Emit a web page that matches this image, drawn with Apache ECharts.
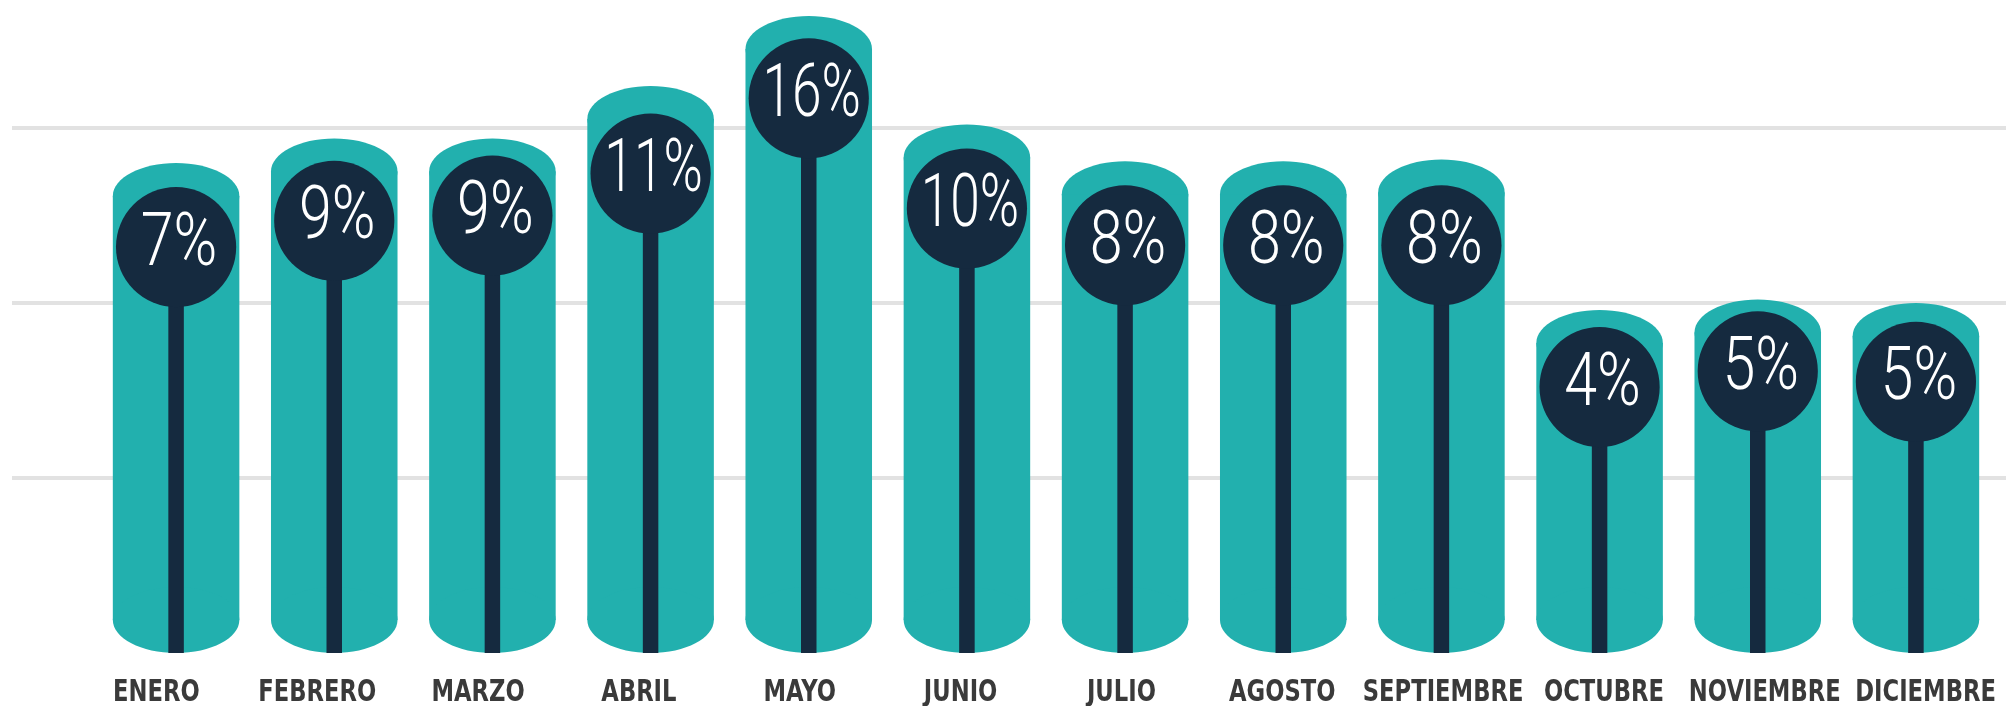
<!DOCTYPE html>
<html>
<head>
<meta charset="utf-8">
<script src="https://cdn.jsdelivr.net/npm/echarts@6/dist/echarts.min.js"></script>
<style>
  html, body { margin: 0; padding: 0; background: #fff; }
  #chart { width: 2006px; height: 706px; }
</style>
</head>
<body>
<div id="chart"></div>
<script>
const months = ['ENERO', 'FEBRERO', 'MARZO', 'ABRIL', 'MAYO', 'JUNIO', 'JULIO', 'AGOSTO', 'SEPTIEMBRE', 'OCTUBRE', 'NOVIEMBRE', 'DICIEMBRE']
// share of the year per month, as printed in the heads
const shares = [7, 9, 9, 11, 16, 10, 8, 8, 8, 4, 5, 5]
// the drawing is not to scale: tube tops and head centres, in gridline units
const tubeLevels = [14.0, 14.7, 14.7, 16.2, 18.2, 15.1, 14.05, 14.05, 14.1, 9.8, 10.1, 10.0]
const headLevels = [11.6, 12.35, 12.5, 13.7, 15.85, 12.7, 11.65, 11.65, 11.65, 7.6, 8.05, 7.75]
const gridTicks = [0, 18.66, 5]

const TEAL = '#22b0ae'
const NAVY = '#152a3f'

const chart = echarts.init(document.getElementById('chart'), null, { renderer: 'canvas' })

const rows = months.map((m, i) => [i, tubeLevels[i], headLevels[i], shares[i]])
const labelRows = months.map((m, i) => [i, 0, m])

function renderTube (params, api) {
  const idx = api.value(0)
  const top = api.coord([idx, api.value(1)])
  const base = api.coord([idx, 0])
  const head = api.coord([idx, api.value(2)])
  const band = api.size([1, 0])[0]
  const cx = top[0]
  const w = band * 0.8
  const ry = 33
  const r = w * 0.475
  const stemW = 15.5
  const label = api.value(3) + '%'

  return {
    type: 'group',
    children: [
      { type: 'ellipse', shape: { cx, cy: top[1] + ry, rx: w / 2, ry }, style: { fill: TEAL } },
      { type: 'rect', shape: { x: cx - w / 2, y: top[1] + ry, width: w, height: base[1] - top[1] - 2 * ry }, style: { fill: TEAL } },
      { type: 'ellipse', shape: { cx, cy: base[1] - ry, rx: w / 2, ry }, style: { fill: TEAL } },
      { type: 'rect', shape: { x: cx - stemW / 2, y: head[1], width: stemW, height: base[1] - head[1] }, style: { fill: NAVY } },
      { type: 'circle', shape: { cx, cy: head[1], r }, style: { fill: NAVY } },
      {
        type: 'text',
        x: cx + 3,
        y: head[1] - 1,
        // two-digit values get squeezed a bit more to stay inside the head
        scaleX: label.length > 2 ? 0.72 : 0.8,
        style: {
          text: label,
          fill: '#fff',
          font: '300 74px Roboto, "Noto Sans", sans-serif',
          textAlign: 'center',
          textVerticalAlign: 'middle'
        }
      }
    ]
  }
}

// month names, squeezed like the condensed face of the original
function renderMonth (params, api) {
  const pos = api.coord([api.value(0), 0])
  return {
    type: 'text',
    x: pos[0],
    y: pos[1] + 40,
    scaleX: 0.84,
    style: {
      text: months[params.dataIndex],
      fill: '#3a3a3a',
      font: 'bold 30px "DejaVu Sans Condensed", "DejaVu Sans", sans-serif',
      textAlign: 'center',
      textVerticalAlign: 'middle'
    }
  }
}

const plotTop = 0
const plotHeight = 653

const option = {
  animation: false,
  backgroundColor: '#fff',
  grid: [
    { left: 97, right: 11, top: plotTop, height: plotHeight },
    { left: 12, right: 0, top: plotTop, height: plotHeight },
    { left: 76, width: 1945, top: plotTop, height: plotHeight }
  ],
  xAxis: [
    { type: 'category', gridIndex: 0, data: months, show: false },
    { type: 'value', gridIndex: 1, show: false },
    { type: 'category', gridIndex: 2, data: months, show: false }
  ],
  yAxis: [
    { type: 'value', gridIndex: 0, min: gridTicks[0], max: gridTicks[1], show: false },
    {
      type: 'value',
      gridIndex: 1,
      min: gridTicks[0],
      max: gridTicks[1],
      interval: gridTicks[2],
      axisLine: { show: false },
      axisTick: { show: false },
      axisLabel: { show: false },
      splitLine: { show: true, showMinLine: false, showMaxLine: false, lineStyle: { color: '#e2e2e2', width: 4 } }
    },
    { type: 'value', gridIndex: 2, min: gridTicks[0], max: gridTicks[1], show: false }
  ],
  series: [
    {
      type: 'custom',
      xAxisIndex: 0,
      yAxisIndex: 0,
      renderItem: renderTube,
      data: rows,
      z: 3
    },
    {
      type: 'custom',
      xAxisIndex: 2,
      yAxisIndex: 2,
      renderItem: renderMonth,
      data: labelRows,
      clip: false,
      z: 3
    }
  ]
}

chart.setOption(option)
</script>
</body>
</html>
